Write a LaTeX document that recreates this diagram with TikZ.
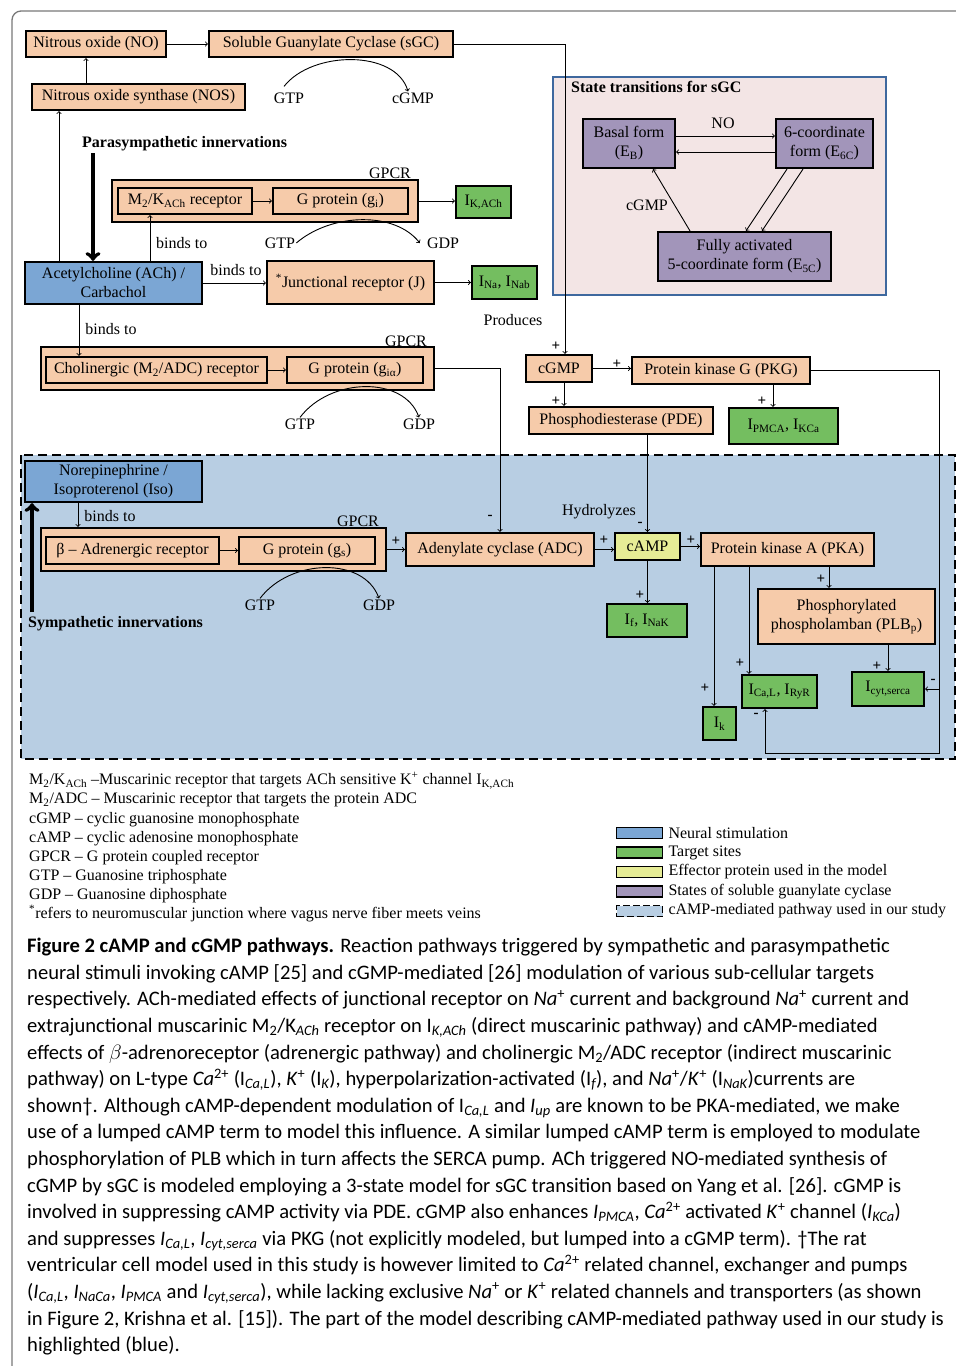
\documentclass[tikz,border=0pt]{standalone}
\usepackage{fontspec}
\setmainfont{Liberation Serif}
\newfontfamily\capfont{Carlito}
\usetikzlibrary{positioning,calc}
\definecolor{PeachColor}{RGB}{246,203,170}
\definecolor{TargetColor}{RGB}{116,190,96}
\definecolor{NeuralColor}{RGB}{123,166,212}
\definecolor{EffectorColor}{RGB}{230,236,150}
\definecolor{StateColor}{RGB}{162,149,186}
\definecolor{StateBoxColor}{RGB}{243,229,229}
\definecolor{StateLineColor}{RGB}{62,104,158}
\definecolor{CampColor}{RGB}{184,206,227}
\definecolor{FrameColor}{RGB}{120,120,120}
\newcommand{\subtxt}[1]{\textsubscript{#1}}
\newcommand{\suptxt}[1]{\textsuperscript{#1}}
\newcommand{\isub}[1]{\textsubscript{\itshape #1}}

\begin{document}
\begin{tikzpicture}[x=1pt, y=-1pt,
    font=\fontsize{16}{19}\selectfont,
    wh/.style 2 args={minimum width=#1pt, minimum height=#2pt},
    box/.style={draw, line width=2.2pt, fill=PeachColor, inner sep=0pt, align=center},
    target/.style={box, fill=TargetColor},
    neural/.style={box, fill=NeuralColor},
    effector/.style={box, fill=EffectorColor},
    sgcstate/.style={box, fill=StateColor},
    lbl/.style={inner sep=1pt},
    sign/.style={inner sep=0pt, font=\fontsize{15}{15}\selectfont\bfseries},
    arr/.style={->, line width=0.9pt},
    innervation/.style={->, line width=4pt},
    swatch/.style={draw, line width=1.6pt, minimum width=46pt, minimum height=11pt, inner sep=0pt}]

    \useasboundingbox (0,0) rectangle (956,1366);
    \draw[FrameColor, line width=1.3pt, rounded corners=9pt] (12,1400) -- (12,11) -- (990,11);

    % cAMP region and sGC state panel
    \draw[fill=CampColor, line width=2.6pt, dash pattern=on 9pt off 5pt] (21,455) rectangle (955,759);
    \draw[fill=StateBoxColor, draw=StateLineColor, line width=2pt] (553,77) rectangle (886,295);
    \node[lbl, anchor=west, font=\fontsize{16}{19}\selectfont\bfseries] (StateTitle) at (570,87) {State transitions for sGC};

    % NO branch
    \node[box, wh={140}{26}] (NO) at (96,44) {Nitrous oxide (NO)};
    \node[box, wh={244}{26}] (sGC) at (331,44) {Soluble Guanylate Cyclase (sGC)};
    \node[box, wh={213}{26}] (NOS) at (138.5,97) {Nitrous oxide synthase (NOS)};
    \node[lbl] (GTPa) at (289,98) {GTP};
    \node[lbl] (cGMPa) at (413,98) {cGMP};

    % parasympathetic side
    \node[lbl, anchor=west, font=\fontsize{16}{19}\selectfont\bfseries] (ParaLabel) at (81,144) {Parasympathetic innervations};
    \coordinate (ParaTop) at (93,153);
    \node[box, wh={306}{42}] (GPCRa) at (265,201) {};
    \node[box, wh={134}{26}] (M2K) at (185,201) {M\subtxt{2}/K\subtxt{ACh} receptor};
    \node[box, wh={135}{26}] (Gi) at (340.5,201) {G protein (g\subtxt{i})};
    \node[lbl] (GPCRaLbl) at (390,173) {GPCR};
    \node[target, wh={55}{32}] (IKACh) at (483.5,202) {I\subtxt{K,ACh}};
    \node[lbl] (GTPb) at (280,243) {GTP};
    \node[lbl] (GDPb) at (443,243) {GDP};
    \node[lbl, anchor=west] (BindsA) at (155,243) {binds to};

    \node[neural, wh={177}{42}] (ACh) at (113.5,283) {Acetylcholine (ACh) /\\Carbachol};
    \node[lbl] (BindsB) at (236,270) {binds to};
    \node[box, wh={167}{43}] (J) at (350.5,282.5) {\suptxt{*}Junctional receptor (J)};
    \node[target, wh={65}{33}] (INa) at (504.5,282.5) {I\subtxt{Na}, I\subtxt{Nab}};
    \node[lbl] (Produces) at (513,320) {Produces};
    \node[lbl] (BindsC) at (111,329) {binds to};

    \node[box, wh={393}{43}] (GPCRb) at (237.5,368.5) {};
    \node[box, wh={221}{26}] (Chol) at (156.5,370) {Cholinergic (M\subtxt{2}/ADC) receptor};
    \node[box, wh={136}{26}] (Gia) at (355,370) {G protein (g\subtxt{iα})};
    \node[lbl] (GPCRbLbl) at (406,341) {GPCR};
    \node[lbl] (GTPc) at (300,424) {GTP};
    \node[lbl] (GDPc) at (419,424) {GDP};

    % sGC states
    \node[sgcstate, wh={92}{49}] (Basal) at (629,143.5) {Basal form\\(E\subtxt{B})};
    \node[sgcstate, wh={97}{49}] (SixC) at (824.5,143.5) {6-coordinate\\form (E\subtxt{6C})};
    \node[sgcstate, wh={173}{49}] (FiveC) at (744.5,256.5) {Fully activated\\5-coordinate form (E\subtxt{5C})};
    \node[lbl] (NOLbl) at (723,123) {NO};
    \node[lbl] (cGMPLbl) at (647,205) {cGMP};

    % cGMP side
    \node[box, wh={66}{27}] (cGMP) at (559,368.5) {cGMP};
    \node[box, wh={178}{27}] (PKG) at (721,370.5) {Protein kinase G (PKG)};
    \node[box, wh={184}{27}] (PDE) at (621,420.5) {Phosphodiesterase (PDE)};
    \node[target, wh={109}{36}] (IPMCA) at (783.5,426) {I\subtxt{PMCA}, I\subtxt{KCa}};

    % sympathetic side
    \node[neural, wh={177}{41}] (Nor) at (113.5,481.5) {Norepinephrine /\\Isoproterenol (Iso)};
    \coordinate (SymBot) at (32,612);
    \node[lbl, anchor=west, font=\fontsize{16}{19}\selectfont\bfseries] (SymLabel) at (27,624) {Sympathetic innervations};
    \node[lbl] (BindsD) at (110,516) {binds to};
    \node[box, wh={345}{43}] (GPCRc) at (213.5,549.5) {};
    \node[box, wh={173}{27}] (Beta) at (132.5,550.5) {β – Adrenergic receptor};
    \node[box, wh={136}{27}] (Gs) at (307,550.5) {G protein (g\subtxt{s})};
    \node[lbl] (GPCRcLbl) at (358,521) {GPCR};
    \node[lbl] (GTPd) at (260,605) {GTP};
    \node[lbl] (GDPd) at (379,605) {GDP};

    \node[box, wh={188}{33}] (ADC) at (500,549.5) {Adenylate cyclase (ADC)};
    \node[effector, wh={65}{27}] (cAMP) at (647.5,546.5) {cAMP};
    \node[box, wh={173}{33}] (PKA) at (787.5,549.5) {Protein kinase A (PKA)};
    \node[lbl] (Hydro) at (599,512) {Hydrolyzes};
    \node[target, wh={80}{33}] (If) at (647,620.5) {I\subtxt{f}, I\subtxt{NaK}};
    \node[target, wh={33}{33}] (Ik) at (719.5,723.5) {I\subtxt{k}};
    \node[target, wh={75}{33}] (ICaL) at (779.5,691.5) {I\subtxt{Ca,L}, I\subtxt{RyR}};
    \node[box, wh={177}{55}] (PLB) at (846.5,616.5) {Phosphorylated\\phospholamban (PLB\subtxt{p})};
    \node[target, wh={72}{34}] (Icyt) at (888,689) {I\subtxt{cyt,serca}};
    \coordinate (LoopCorner) at (939,753);

    % connectors
    \foreach \from/\to in {NO/sGC, M2K/Gi, Chol/Gia, Beta/Gs, J/INa}
    \draw [arr] (\from.east)--(\to.west);

    \draw[arr] ([xshift=-10pt]NO.south |- NOS.north) -- ([xshift=-10pt]NO.south);
    \draw[arr] ([xshift=-54.5pt]ACh.north) -- ([xshift=-54.5pt]ACh.north |- NOS.south);
    \draw[innervation] (ParaTop) -- (ParaTop |- ACh.north);
    \draw[arr] ([xshift=-35pt]M2K.south |- ACh.north) -- ([xshift=-35pt]M2K.south);
    \draw[arr] (GPCRa.east) -- (GPCRa.east -| IKACh.west);
    \draw[arr] (ACh.east) -- (ACh.east -| J.west);
    \draw[arr] ([xshift=-77.5pt]Chol.north |- ACh.south) -- ([xshift=-77.5pt]Chol.north);
    \draw[arr] (GPCRb.east) -| (ADC.north);
    \draw[arr] (sGC.east) -| ([xshift=6pt]cGMP.north);

    \draw[arr] ([shift={(-5,-5)}]GTPa.north) .. controls +(28,-36) and +(-12,-42) .. ([xshift=-5pt]cGMPa.north);
    \draw[arr] (GTPb.east) .. controls +(35,-30) and +(-25,-32) .. ([xshift=-6pt]GDPb.west);
    \draw[arr] (GTPc.north) .. controls +(30,-40) and +(-15,-42) .. (GDPc.north);
    \draw[arr] (GTPd.north) .. controls +(30,-40) and +(-15,-42) .. (GDPd.north);

    \draw[arr] ([yshift=7.5pt]Basal.east) -- ([yshift=7.5pt]Basal.east -| SixC.west);
    \draw[arr] ([yshift=-8.5pt]SixC.west) -- ([yshift=-8.5pt]SixC.west -| Basal.east);
    \draw[arr] ([xshift=-37.5pt]SixC.south) -- ([xshift=1.5pt]FiveC.north);
    \draw[arr] ([xshift=-21.5pt]SixC.south) -- ([xshift=17.5pt]FiveC.north);
    \draw[arr] ([xshift=-54.5pt]FiveC.north) -- ([xshift=24pt]Basal.south);

    \draw[arr] (cGMP.east) -- (cGMP.east -| PKG.west);
    \draw[arr] ([xshift=5pt]cGMP.south) -- ([xshift=5pt]cGMP.south |- PDE.north);
    \draw[arr] ([xshift=-10.5pt]IPMCA.north |- PKG.south) -- ([xshift=-10.5pt]IPMCA.north);
    \draw[arr] (cAMP.north |- PDE.south) -- (cAMP.north);
    \draw[arr] (PKG.east) -| (LoopCorner) -| ([xshift=-14.5pt]ICaL.south);
    \draw[arr] (Icyt.east -| LoopCorner) -- (Icyt.east);

    \draw[innervation] (SymBot) -- (SymBot |- Nor.south);
    \draw[arr] ([xshift=-35.5pt]Nor.south) -- ([xshift=-35.5pt]Nor.south |- GPCRc.north);
    \draw[arr] (GPCRc.east) -- (GPCRc.east -| ADC.west);
    \draw[arr] (ADC.east) -- (ADC.east -| cAMP.west);
    \draw[arr] (cAMP.east) -- (cAMP.east -| PKA.west);
    \draw[arr] (cAMP.south) -- (cAMP.south |- If.north);
    \draw[arr] ([xshift=-5.5pt]Ik.north |- PKA.south) -- ([xshift=-5.5pt]Ik.north);
    \draw[arr] ([xshift=-30.5pt]ICaL.north |- PKA.south) -- ([xshift=-30.5pt]ICaL.north);
    \draw[arr] ([xshift=-17.5pt]PLB.north |- PKA.south) -- ([xshift=-17.5pt]PLB.north);
    \draw[arr] (Icyt.north |- PLB.south) -- (Icyt.north);

    % signs
    \foreach \n/\x/\y/\s in {a/556/346/+, b/617/364/+, c/556/401/+, d/762/401/+,
        e/490/517/-, f/640/524/-, g/396/541/+, h/604/540/+, i/691/540/+,
        j/640/595/+, k/705/688/+, l/740/663/+, m/821/579/+, n/877/666/+,
        o/933/681/-, p/756/715/-}
    \node[sign] (Sign\n) at (\x,\y) {\s};

    % abbreviations
    \node[lbl, inner sep=0pt, anchor=north west, align=left, font=\fontsize{16}{19.1}\selectfont] (Abbrev) at (29,772) {%
        M\subtxt{2}/K\subtxt{ACh} –Muscarinic receptor that targets ACh sensitive K\suptxt{+} channel I\subtxt{K,ACh}\\
        M\subtxt{2}/ADC – Muscarinic receptor that targets the protein ADC\\
        cGMP – cyclic guanosine monophosphate\\
        cAMP – cyclic adenosine monophosphate\\
        GPCR – G protein coupled receptor\\
        GTP – Guanosine triphosphate\\
        GDP – Guanosine diphosphate\\
        \suptxt{*}refers to neuromuscular junction where vagus nerve fiber meets veins};

    % colour key
    \foreach \c/\t [count=\i] in {NeuralColor/Neural stimulation, TargetColor/Target sites,
        EffectorColor/Effector protein used in the model, StateColor/States of soluble guanylate cyclase}
    {
        \node[swatch, fill=\c] (Swatch\i) at (639.5,{833+(\i-1)*19.5}) {};
        \node[lbl, anchor=west] (Key\i) at ([xshift=4pt]Swatch\i.east) {\t};
    }
    \node[swatch, fill=CampColor, dash pattern=on 7pt off 3pt] (Swatch5) at (639.5,911) {};
    \node[lbl, anchor=west] (Key5) at ([xshift=4pt]Swatch5.east) {cAMP-mediated pathway used in our study};

    % caption
    \node[inner sep=0pt, anchor=north west, align=left, font=\capfont\fontsize{20.6}{26.6}\selectfont] (Caption) at (27,938) {%
        {\bfseries Figure 2 cAMP and cGMP pathways.} Reaction pathways triggered by sympathetic and parasympathetic\\
        neural stimuli invoking cAMP [25] and cGMP-mediated [26] modulation of various sub-cellular targets\\
        respectively. ACh-mediated effects of junctional receptor on \textit{Na}\suptxt{+} current and background \textit{Na}\suptxt{+} current and\\
        extrajunctional muscarinic M\subtxt{2}/K\isub{ACh} receptor on I\isub{K,ACh} (direct muscarinic pathway) and cAMP-mediated\\
        effects of $\beta$-adrenoreceptor (adrenergic pathway) and cholinergic M\subtxt{2}/ADC receptor (indirect muscarinic\\
        pathway) on L-type \textit{Ca}\suptxt{2+} (I\isub{Ca,L}), \textit{K}\suptxt{+} (I\isub{K}), hyperpolarization-activated (I\isub{f}), and \textit{Na}\suptxt{+}/\textit{K}\suptxt{+} (I\isub{NaK})currents are\\
        shown\textdagger. Although cAMP-dependent modulation of I\isub{Ca,L} and \textit{I}\isub{up} are known to be PKA-mediated, we make\\
        use of a lumped cAMP term to model this influence. A similar lumped cAMP term is employed to modulate\\
        phosphorylation of PLB which in turn affects the SERCA pump. ACh triggered NO-mediated synthesis of\\
        cGMP by sGC is modeled employing a 3-state model for sGC transition based on Yang et al. [26]. cGMP is\\
        involved in suppressing cAMP activity via PDE. cGMP also enhances \textit{I}\isub{PMCA}, \textit{Ca}\suptxt{2+} activated \textit{K}\suptxt{+} channel (\textit{I}\isub{KCa})\\
        and suppresses \textit{I}\isub{Ca,L}, \textit{I}\isub{cyt,serca} via PKG (not explicitly modeled, but lumped into a cGMP term). \textdagger The rat\\
        ventricular cell model used in this study is however limited to \textit{Ca}\suptxt{2+} related channel, exchanger and pumps\\
        (\textit{I}\isub{Ca,L}, \textit{I}\isub{NaCa}, \textit{I}\isub{PMCA} and \textit{I}\isub{cyt,serca}), while lacking exclusive \textit{Na}\suptxt{+} or \textit{K}\suptxt{+} related channels and transporters (as shown\\
        in Figure 2, Krishna et al. [15]). The part of the model describing cAMP-mediated pathway used in our study is\\
        highlighted (blue).};

\end{tikzpicture}
\end{document}
